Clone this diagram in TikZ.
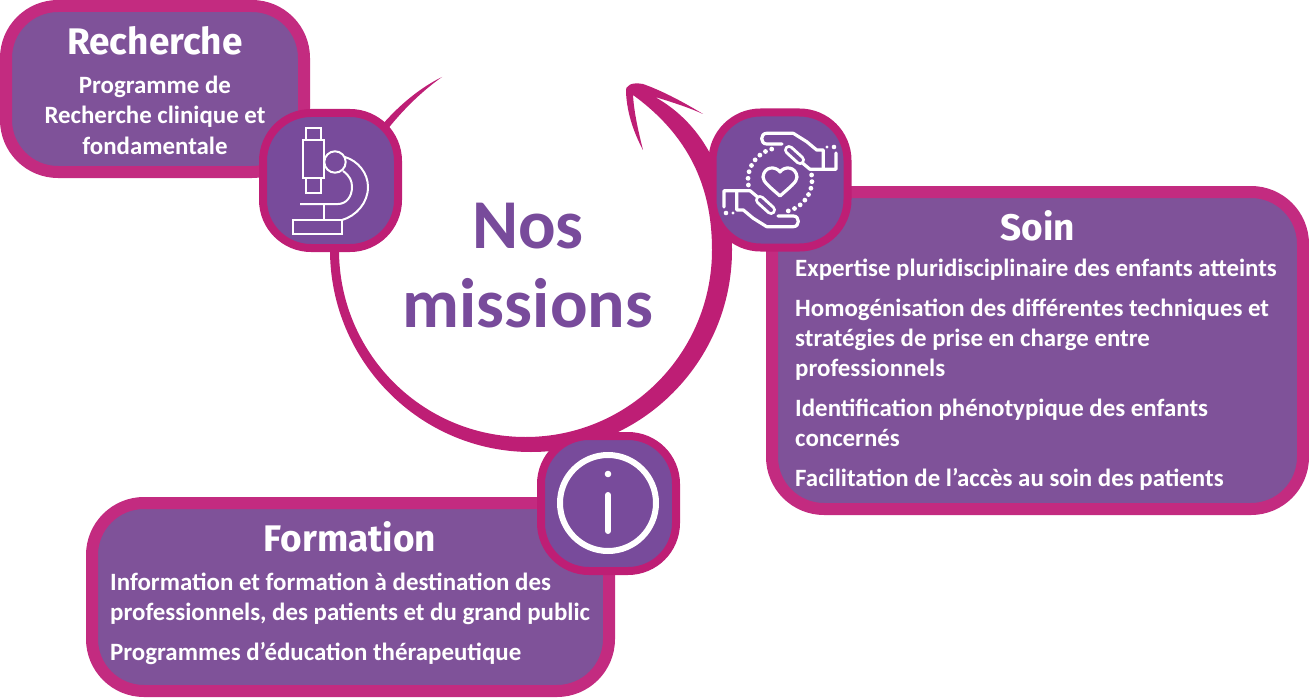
\documentclass[tikz,border=0pt]{standalone}
\usepackage{fontspec}
\setmainfont{Carlito}
\newfontfamily\titlefont{Fira Sans}
\usepackage{xcolor}
\usetikzlibrary{positioning}
\definecolor{boxline}{HTML}{C32B80}
\definecolor{boxfill}{HTML}{7F5299}
\definecolor{iconline}{HTML}{BE1E75}
\definecolor{iconfill}{HTML}{784B9B}
\tikzset{
	mission/.style={draw=boxline,fill=boxfill,line width=12pt,rounded corners=52pt,outer sep=0pt,inner sep=0pt},
	iconbox/.style={draw=iconline,fill=iconfill,line width=8pt,rounded corners=48pt,outer sep=0pt,inner sep=0pt,minimum width=135pt,minimum height=135pt},
	heading/.style={font=\titlefont\fontsize{37}{37}\selectfont\bfseries,text=white,inner sep=0pt,anchor=base},
	body/.style={font=\fontsize{24.9}{24.9}\selectfont\bfseries,text=white,inner sep=0pt,anchor=base west},
	bodymid/.style={font=\fontsize{24.9}{24.9}\selectfont\bfseries,text=white,inner sep=0pt,anchor=base},
	bigword/.style={font=\fontsize{70}{70}\selectfont\bfseries,text=iconfill,inner sep=0pt,anchor=base},
	thinicon/.style={draw=white,line width=2pt},
	handicon/.style={draw=white,line width=3.2pt,line cap=round,line join=round}
}
\begin{document}
\begin{tikzpicture}[x=1pt,y=-1pt]
	\useasboundingbox (0,0) rectangle (1309,698);

	% les trois cadres
	\node[mission,minimum width=298pt,minimum height=166pt] (rechercheBox) at (155,89) {};
	\node[mission,minimum width=531pt,minimum height=317pt] (soinBox) at (1037.5,350.5) {};
	\node[mission,minimum width=517pt,minimum height=188pt] (formationBox) at (350.5,597) {};

	% la grande fleche
	\fill[iconline] (442,77) .. controls (385,105) and (330,180) .. (330,250)
		.. controls (330,361) and (420,452) .. (531,452)
		.. controls (642,452) and (732,361) .. (732,250)
		.. controls (732,180) and (705,125) .. (655,97)
		.. controls (672,102) and (690,108) .. (703,114)
		.. controls (680,100) and (660,90) .. (643,84)
		.. controls (632,82) and (625,85) .. (626,92)
		.. controls (627,115) and (635,135) .. (643,150)
		.. controls (638,130) and (634,112) .. (633,95)
		.. controls (695,140) and (712,195) .. (712,250)
		.. controls (712,353) and (629,437) .. (525.5,437)
		.. controls (422,437) and (339,353) .. (339,250)
		.. controls (339,180) and (395,110) .. (442,77) -- cycle;

	% les pastilles
	\node[iconbox] (microBox) at (330.5,180.5) {};
	\node[iconbox] (handBox) at (780,180) {};
	\node[iconbox] (infoBox) at (608.5,503.5) {};

	% microscope
	\draw[thinicon] (306,128) rectangle (321,140);
	\draw[thinicon] (303,140) rectangle (324,178);
	\draw[thinicon] (306,178) rectangle (321,193);
	\draw[thinicon] (335,162) circle (10.7);
	\draw[thinicon] (343,171) .. controls (350,176) and (352,181) .. (352,187) .. controls (352,197) and (346,204) .. (338,204) -- (300,204);
	\draw[thinicon] (345,157) .. controls (358,161) and (368,173) .. (368,187) .. controls (368,203) and (356,216) .. (342,220);
	\draw[thinicon] (324,204) -- (324,220);
	\draw[thinicon] (293,220) rectangle (342,234);

	% mains et coeur
	\foreach \a in {0,180} {
		\begin{scope}[shift={(780,180)},rotate=\a]
			\draw[handicon] (2,-36) -- (-13.3,-36) .. controls (-20,-36) and (-20,-46.7) .. (-13.3,-46.7) -- (13.3,-46.7) -- (26.7,-38.3) -- (36.7,-30) -- (43.3,-30) -- (43.3,-10.7) -- (56,-10.7) -- (56,-27);
			\draw[handicon] (20,-19) -- (30,-10.7) -- (43.3,-10.7);
			\draw[white,line width=10pt,line cap=round] (9,-30) -- (20,-20);
			\draw[iconfill,line width=4pt,line cap=round] (9,-30) -- (20,-20);
			\fill[white] (54,-33) circle (2.3);
			\fill[white] (47,-33) circle (1.7);
			\foreach \t in {171,183,...,255} {
				\fill[white] ({32*cos(\t)},{32*sin(\t)}) circle (2.4);
			}
		\end{scope}
	}
	\draw[handicon] (780,172) .. controls (776,166) and (764,166) .. (763,177)
		.. controls (763,182) and (770,187) .. (780,196)
		.. controls (790,187) and (797,182) .. (797,177)
		.. controls (796,166) and (784,166) .. (780,172) -- cycle;

	% information
	\draw[white,line width=6pt] (608,503) circle (48);
	\fill[white] (608,474) circle (3.3);
	\draw[white,line width=6pt,line cap=round] (608,495) -- (608,531);

	% textes
	\node[bigword] (nosWord) at (528,248) {Nos};
	\node[bigword] (missionsWord) at (528,327) {missions};

	\node[heading] (rechercheHead) at (155,55) {Recherche};
	\node[bodymid] (rechercheA) at (155,94) {Programme de};
	\node[bodymid] (rechercheB) at (155,124) {Recherche clinique et};
	\node[bodymid] (rechercheC) at (155,154) {fondamentale};

	\node[heading] (soinHead) at (1038,240) {Soin};
	\node[body] (soinA) at (795,276) {Expertise pluridisciplinaire des enfants atteints};
	\node[body] (soinB) at (795,316) {Homogénisation des différentes techniques et};
	\node[body] (soinC) at (795,346) {stratégies de prise en charge entre};
	\node[body] (soinD) at (795,376) {professionnels};
	\node[body] (soinE) at (795,416) {Identification phénotypique des enfants};
	\node[body] (soinF) at (795,446) {concernés};
	\node[body] (soinG) at (795,486) {Facilitation de l’accès au soin des patients};

	\node[heading] (formationHead) at (350,551) {Formation};
	\node[body] (formationA) at (110,590) {Information et formation à destination des};
	\node[body] (formationB) at (110,620) {professionnels, des patients et du grand public};
	\node[body] (formationC) at (110,660) {Programmes d’éducation thérapeutique};
\end{tikzpicture}
\end{document}
